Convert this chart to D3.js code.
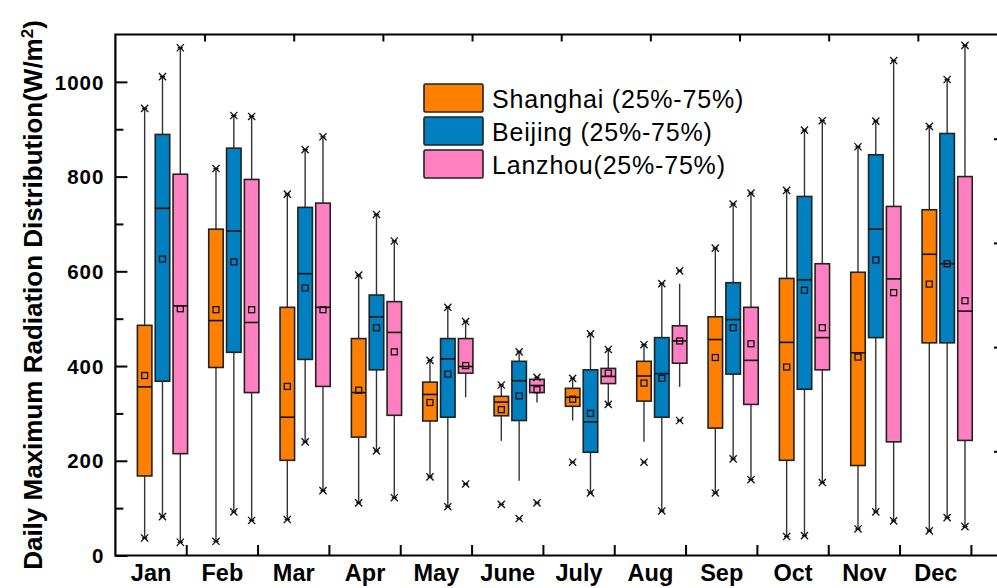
<!DOCTYPE html>
<html>
<head>
<meta charset="utf-8">
<script src="https://cdn.jsdelivr.net/npm/d3@7"></script>
<style>
  html, body { margin: 0; padding: 0; background: #fff; }
  svg { display: block; }
  text { font-family: Arial, "Liberation Sans", sans-serif; fill: #000; }
</style>
</head>
<body>
<script>
// Months along the x axis and the three cities shown in each month group
const months = ["Jan", "Feb", "Mar", "Apr", "May", "June", "July", "Aug", "Sep", "Oct", "Nov", "Dec"];
const cities = ["Shanghai", "Beijing", "Lanzhou"];
const legendLabels = ["Shanghai (25%-75%)", "Beijing (25%-75%)", "Lanzhou(25%-75%)"];
const cityColors = ["#FF8000", "#0080C0", "#FF80C0"];

// Per month: [min, whiskerLow, q1, median, q3, whiskerHigh, max, mean]  (W/m²)
const shanghai = [
  [37, 37, 168, 356, 486, 944, 944, 380],
  [30, 30, 397, 496, 689, 817, 817, 519],
  [76, 76, 201, 292, 524, 763, 763, 357],
  [111, 111, 250, 344, 458, 592, 592, 349],
  [166, 166, 284, 340, 366, 412, 412, 323],
  [108, 242, 295, 324, 336, 360, 360, 308],
  [197, 285, 315, 334, 353, 374, 374, 330],
  [197, 240, 326, 379, 410, 445, 445, 364],
  [132, 132, 269, 456, 504, 649, 649, 418],
  [40, 40, 201, 450, 585, 771, 771, 398],
  [56, 56, 190, 428, 598, 863, 863, 419],
  [52, 52, 449, 636, 730, 906, 906, 573]
];
const beijing = [
  [82, 82, 368, 733, 889, 1011, 1011, 626],
  [92, 92, 429, 685, 860, 929, 929, 620],
  [240, 240, 414, 595, 735, 857, 857, 565],
  [221, 221, 392, 504, 550, 720, 720, 481],
  [103, 103, 292, 415, 458, 524, 524, 383],
  [78, 158, 285, 369, 410, 430, 430, 337],
  [132, 132, 218, 282, 392, 468, 468, 300],
  [94, 94, 292, 384, 460, 574, 574, 374],
  [204, 204, 383, 498, 576, 742, 742, 481],
  [42, 42, 351, 582, 758, 898, 898, 560],
  [92, 92, 460, 689, 846, 917, 917, 624],
  [80, 80, 449, 616, 891, 1005, 1005, 616]
];
const lanzhou = [
  [28, 28, 215, 527, 805, 1072, 1072, 521],
  [74, 74, 344, 492, 794, 927, 927, 519],
  [137, 137, 357, 524, 744, 884, 884, 519],
  [122, 122, 296, 471, 536, 664, 664, 430],
  [151, 334, 385, 399, 458, 494, 494, 401],
  [111, 323, 344, 359, 372, 376, 376, 350],
  [319, 319, 363, 378, 395, 435, 435, 385],
  [285, 356, 406, 453, 485, 574, 601, 453],
  [160, 160, 319, 412, 524, 765, 765, 447],
  [154, 154, 392, 460, 616, 918, 918, 481],
  [73, 73, 240, 584, 737, 1045, 1045, 555],
  [61, 61, 243, 516, 800, 1077, 1077, 538]
];
const cityData = [shanghai, beijing, lanzhou];

const yMajorTicks = [0, 200, 400, 600, 800, 1000];
const yMinorTicks = [100, 300, 500, 700, 900];

// ---- layout ----
const W = 997, H = 588;
const plotLeft = 115.4, plotTop = 34.5, plotBottom = 555.5, frameRight = 1007;

const svg = d3.select("body").append("svg").attr("width", W).attr("height", H);

const x = d3.scaleBand().domain(months).range([plotLeft, 971.4]).padding(0);
const y = d3.scaleLinear().domain([0, 1100]).range([plotBottom, plotTop]);
// city position inside each month band (as fraction of the band)
const inner = d3.scalePoint().domain(cities).range([0.41, 0.91]);
const boxW = 14.5;
const cx = (m, c) => x(m) + inner(c) * x.bandwidth();

// secondary (unlabelled) scales for the mirrored top / right axes
const xTop = d3.scaleLinear().domain([0, 10]).range([plotLeft, frameRight]);
const yRight = d3.scaleLinear().domain([0, 5]).range([plotBottom, plotTop]);

// ---- boxes ----
const marks = svg.append("g");
const crossPath = "M-3.6,-3.6L3.6,3.6M-3.6,3.6L3.6,-3.6M-2.6,0L2.6,0";

cities.forEach((city, ci) => {
  const g = marks.append("g");
  cityData[ci].forEach((d, mi) => {
    const m = months[mi];
    const [mn, wLo, q1, med, q3, wHi, mx, mean] = d;
    const xc = cx(m, city);
    // whiskers
    g.append("line").attr("x1", xc).attr("x2", xc).attr("y1", y(wLo)).attr("y2", y(q1))
      .attr("stroke", "#333").attr("stroke-width", 1.4);
    g.append("line").attr("x1", xc).attr("x2", xc).attr("y1", y(q3)).attr("y2", y(wHi))
      .attr("stroke", "#333").attr("stroke-width", 1.4);
    // interquartile box
    g.append("rect")
      .attr("x", xc - boxW / 2).attr("width", boxW)
      .attr("y", y(q3)).attr("height", y(q1) - y(q3))
      .attr("fill", cityColors[ci]).attr("stroke", "#222").attr("stroke-width", 1.6);
    // median
    g.append("line").attr("x1", xc - boxW / 2).attr("x2", xc + boxW / 2)
      .attr("y1", y(med)).attr("y2", y(med)).attr("stroke", "#111").attr("stroke-width", 1.6);
    // mean
    g.append("rect").attr("x", xc - 3).attr("y", y(mean) - 3).attr("width", 6).attr("height", 6)
      .attr("fill", "none").attr("stroke", "#111").attr("stroke-width", 1.3);
    // min / max markers
    [mn, mx].forEach(v => {
      g.append("path").attr("d", crossPath)
        .attr("transform", `translate(${xc},${y(v)})`)
        .attr("fill", "none").attr("stroke", "#111").attr("stroke-width", 1.3);
    });
  });
});

// ---- axes & frame ----
const axisG = svg.append("g");

// left axis, inward ticks
const leftAxis = axisG.append("g").attr("transform", `translate(${plotLeft},0)`)
  .call(d3.axisLeft(y).tickValues(yMajorTicks).tickFormat(d3.format("d"))
    .tickSizeInner(-12).tickSizeOuter(0).tickPadding(11));
leftAxis.select(".domain").remove();
leftAxis.selectAll(".tick line").attr("stroke", "#000").attr("stroke-width", 2);
leftAxis.selectAll(".tick text")
  .style("font-size", "20.5px").style("font-weight", "bold").style("letter-spacing", "1px")
  .attr("dy", "0.35em");

const leftMinor = axisG.append("g").attr("transform", `translate(${plotLeft},0)`)
  .call(d3.axisLeft(y).tickValues(yMinorTicks).tickSizeInner(-8).tickSizeOuter(0).tickFormat(""));
leftMinor.select(".domain").remove();
leftMinor.selectAll(".tick line").attr("stroke", "#000").attr("stroke-width", 2);

// bottom: ticks at month boundaries, labels at month centres
const bottomAxis = axisG.append("g").attr("transform", `translate(0,${plotBottom})`)
  .call(d3.axisBottom(x).tickSize(0).tickPadding(9));
bottomAxis.select(".domain").remove();
bottomAxis.selectAll(".tick text")
  .style("font-size", "23.5px").style("font-weight", "bold").attr("dy", "0.71em");
axisG.selectAll("line.boundary").data(months).join("line").attr("class", "boundary")
  .attr("x1", m => x(m) + x.bandwidth()).attr("x2", m => x(m) + x.bandwidth())
  .attr("y1", plotBottom).attr("y2", plotBottom - 10.5)
  .attr("stroke", "#000").attr("stroke-width", 2);

// top mirrored axis
const topAxis = axisG.append("g").attr("transform", `translate(0,${plotTop})`)
  .call(d3.axisTop(xTop).tickValues(d3.range(1, 10)).tickSizeInner(-7).tickSizeOuter(0).tickFormat(""));
topAxis.select(".domain").remove();
topAxis.selectAll(".tick line").attr("stroke", "#000").attr("stroke-width", 2);

// right mirrored axis (line sits just beyond the visible area)
const rightAxis = axisG.append("g").attr("transform", `translate(${frameRight},0)`)
  .call(d3.axisRight(yRight).tickValues([1, 2, 3, 4]).tickSizeInner(-13).tickSizeOuter(0).tickFormat(""));
rightAxis.select(".domain").remove();
rightAxis.selectAll(".tick line").attr("stroke", "#000").attr("stroke-width", 2);

// frame lines
axisG.append("path")
  .attr("d", `M${frameRight},${plotTop}H${plotLeft}V${plotBottom}H${frameRight}`)
  .attr("fill", "none").attr("stroke", "#000").attr("stroke-width", 2.2);

// y-axis title
const yTitle = svg.append("text")
  .attr("transform", `translate(42,295) rotate(-90)`)
  .attr("text-anchor", "middle")
  .style("font-size", "26px").style("font-weight", "bold");
yTitle.append("tspan").text("Daily Maximum Radiation Distribution(W/m");
yTitle.append("tspan").text("2").attr("dy", "-0.55em").style("font-size", "17px");
yTitle.append("tspan").text(")").attr("dy", "0.36em");

// ---- legend ----
const legend = svg.append("g").attr("transform", "translate(424,84)");
const rows = legend.selectAll("g").data(cities).join("g")
  .attr("transform", (d, i) => `translate(0,${i * 33})`);
rows.append("rect").attr("width", 59).attr("height", 28).attr("rx", 1.5)
  .attr("fill", (d, i) => cityColors[i]).attr("stroke", "#222").attr("stroke-width", 1.6);
rows.append("text").attr("x", 68).attr("y", 23.5)
  .style("font-size", "25px").style("letter-spacing", "0.8px")
  .text((d, i) => legendLabels[i]);
</script>
</body>
</html>
